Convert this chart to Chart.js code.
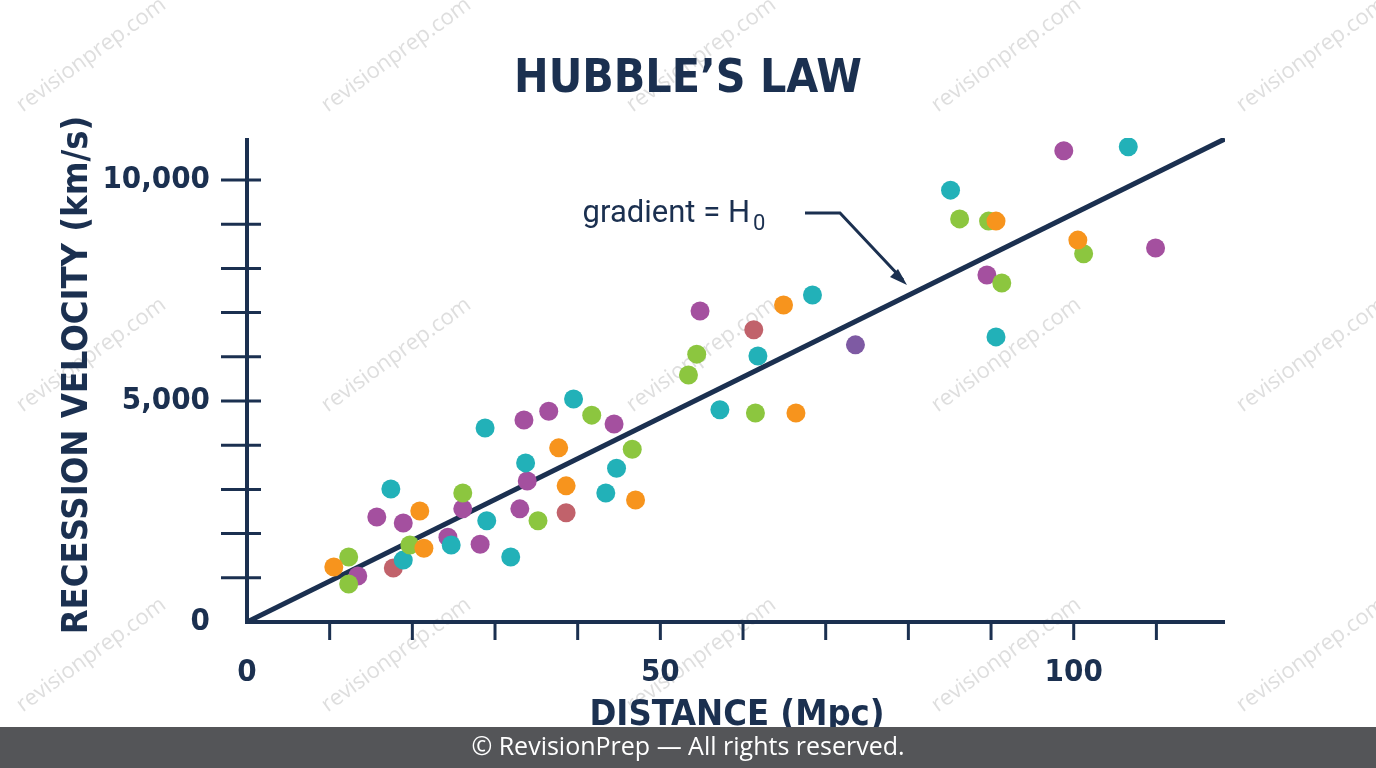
<!DOCTYPE html>
<html><head><meta charset="utf-8">
<script src="https://cdn.jsdelivr.net/npm/chart.js@4"></script>
<style>html,body{margin:0;padding:0;background:#fff;overflow:hidden}#w{position:relative;width:1376px;height:768px}</style>
</head><body><div id="w"><canvas id="c" width="1376" height="768"></canvas></div>
<script>
const xTickLabels=[0,50,100];
const yTickLabels=[0,5000,10000];
const lineX=[0,118.3];
const H0=92.4;
const orangeX=[10.5,20.9,21.4,37.7,38.6,47.0,64.9,66.4,90.6,100.5];
const orangeY=[1244,2510,1670,3940,3080,2760,7170,4730,9070,8640];
const greenX=[12.3,12.3,19.7,26.1,35.2,41.7,46.6,53.4,54.4,61.5,86.2,89.7,91.3,101.2];
const greenY=[1470,860,1740,2920,2290,4680,3910,5590,6060,4730,9120,9070,7670,8330];
const tealX=[17.4,18.9,24.7,28.8,29.0,31.9,33.7,39.5,43.4,44.7,57.2,61.8,68.4,85.1,90.6,106.6];
const tealY=[3010,1400,1740,4390,2290,1470,3600,5045,2920,3480,4800,6020,7400,9770,6450,10750];
const purpleX=[13.4,15.7,18.9,24.3,26.1,28.2,33.0,33.5,33.9,36.5,44.4,54.8,89.5,98.8,109.9];
const purpleY=[1040,2375,2240,1920,2560,1760,2560,4570,3190,4770,4480,7036,7850,10660,8460];
const roseX=[17.7,38.6,61.3];
const roseY=[1220,2470,6610];
const violetX=[73.6];
const violetY=[6270];
const NAVY='#1b3050';
const F="'Liberation Sans Narrow','DejaVu Sans Condensed',Roboto,sans-serif";
const pts=(xs,ys)=>xs.map((x,i)=>({x,y:ys[i]}));
const sc=(xs,ys,c)=>({type:'scatter',data:pts(xs,ys),backgroundColor:c,borderWidth:0,pointRadius:9.5,pointHoverRadius:9.5});
const deco={id:'deco',
 beforeDraw(ch){const g=ch.ctx;g.save();g.fillStyle='#fff';g.fillRect(0,0,1376,768);
  g.fillStyle='rgba(160,160,160,0.35)';g.font='22px "Open Sans",sans-serif';
  for(let r=0;r<3;r++)for(let k=0;k<5;k++){g.save();g.translate(95+k*305,60+r*300);g.rotate(-Math.PI/5);g.textAlign='center';g.fillText('revisionprep.com',0,0);g.restore();}
  g.restore();},
 afterDraw(ch){const g=ch.ctx,xs=ch.scales.x,ys=ch.scales.y,a=ch.chartArea;g.save();
  g.strokeStyle=NAVY;g.lineWidth=4;g.lineCap='butt';
  g.beginPath();g.moveTo(a.left,ys.getPixelForValue(10950));g.lineTo(a.left,a.bottom+2);g.moveTo(a.left-2,a.bottom);g.lineTo(xs.getPixelForValue(118.3),a.bottom);g.stroke();
  g.lineWidth=3;
  for(let v=1000;v<=10000;v+=1000){const p=ys.getPixelForValue(v);g.beginPath();g.moveTo(a.left-26,p);g.lineTo(a.left+14,p);g.stroke();}
  for(let v=10;v<=110;v+=10){const p=xs.getPixelForValue(v);g.beginPath();g.moveTo(p,a.bottom-2);g.lineTo(p,a.bottom+18);g.stroke();}
  g.fillStyle=NAVY;g.font='bold 46px '+F;g.textAlign='center';g.textBaseline='middle';g.fillText('HUBBLE’S LAW',688,80);
  g.font='bold 36px '+F;g.fillText('DISTANCE (Mpc)',737,716);
  g.save();g.translate(78,375);g.rotate(-Math.PI/2);g.fillText('RECESSION VELOCITY (km/s)',0,0);g.restore();
  g.font='31px Roboto,sans-serif';g.textAlign='right';g.fillText('gradient = H',750,214);
  g.font='22px Roboto,sans-serif';g.textAlign='left';g.fillText('0',753,224);
  g.lineWidth=3;g.beginPath();g.moveTo(805,213);g.lineTo(840,213);g.lineTo(903,280);g.stroke();
  g.beginPath();g.moveTo(907,285);g.lineTo(890,277);g.lineTo(898,269);g.closePath();g.fill();
  g.fillStyle='#545558';g.fillRect(0,727,1376,41);
  g.fillStyle='#fff';g.font='25px "Open Sans",sans-serif';g.textAlign='center';g.fillText('© RevisionPrep — All rights reserved.',688,748);
  g.restore();}};
new Chart(document.getElementById('c'),{
 data:{datasets:[
  {type:'line',data:lineX.map(x=>({x,y:x*H0})),borderColor:NAVY,borderWidth:5,pointRadius:0,order:10},
  sc(orangeX,orangeY,'#f7941d'),sc(greenX,greenY,'#8cc63f'),sc(tealX,tealY,'#22b1b8'),
  sc(purpleX,purpleY,'#a4509f'),sc(roseX,roseY,'#c1626b'),sc(violetX,violetY,'#7e5aa3')]},
 options:{responsive:false,animation:false,events:[],
  layout:{padding:{top:138,right:151,left:0,bottom:0}},
  plugins:{legend:{display:false},tooltip:{enabled:false}},
  scales:{
   x:{type:'linear',min:0,max:118.3,afterFit(s){s.height=146;},
     grid:{display:false},border:{display:false},
     afterBuildTicks(s){s.ticks=xTickLabels.map(v=>({value:v}));},
     ticks:{color:NAVY,font:{family:F,weight:'bold',size:31},padding:24,maxRotation:0}},
   y:{type:'linear',min:0,max:10950,afterFit(s){s.width=247;},
     grid:{display:false},border:{display:false},
     afterBuildTicks(s){s.ticks=yTickLabels.map(v=>({value:v}));},
     ticks:{color:NAVY,font:{family:F,weight:'bold',size:31},padding:29}}}},
 plugins:[deco]});
</script></body></html>
